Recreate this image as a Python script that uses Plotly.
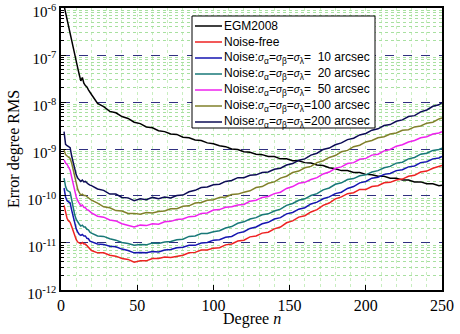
import plotly.graph_objects as go
import numpy as np

degrees = list(range(2, 20)) + list(range(20, 249, 4)) + [250]

# log10 of error degree RMS
egm2008_log = [-5.95, -6.1, -6.3, -6.42, -6.55, -6.7, -6.85, -7.0, -7.15, -7.28, -7.42, -7.55, -7.48, -7.6, -7.65, -7.68, -7.74, -7.8,
               -7.84, -8.03, -8.1, -8.2, -8.23, -8.31, -8.35, -8.43, -8.46, -8.53, -8.55, -8.61, -8.63, -8.68, -8.69, -8.75, -8.76, -8.81,
               -8.82, -8.87, -8.89, -8.93, -8.95, -9.0, -9.01, -9.06, -9.07, -9.11, -9.12, -9.16, -9.16, -9.21, -9.21, -9.25, -9.25, -9.29,
               -9.3, -9.34, -9.35, -9.4, -9.42, -9.46, -9.46, -9.5, -9.5, -9.54, -9.55, -9.58, -9.58, -9.62, -9.62, -9.66, -9.66, -9.7,
               -9.7, -9.74, -9.74, -9.78, -9.77]
noise200_log = [-8.63, -8.9, -8.93, -8.95, -8.97, -9.15, -9.3, -9.45, -9.55, -9.62, -9.66, -9.69, -9.66, -9.7, -9.69, -9.73, -9.75, -9.77,
                -9.78, -9.85, -9.88, -9.96, -9.96, -10.03, -10.04, -10.1, -10.06, -10.08, -10.03, -10.06, -10.02, -10.04, -9.99, -9.98, -9.91, -9.88,
                -9.82, -9.81, -9.76, -9.75, -9.69, -9.67, -9.61, -9.61, -9.56, -9.55, -9.5, -9.49, -9.43, -9.41, -9.34, -9.31, -9.24, -9.21,
                -9.13, -9.09, -9.01, -8.98, -8.91, -8.87, -8.8, -8.77, -8.7, -8.67, -8.6, -8.57, -8.5, -8.48, -8.41, -8.38, -8.31, -8.29,
                -8.21, -8.17, -8.09, -8.06, -8.01]
noise100_log = [-9.02, -9.12, -9.15, -9.18, -9.2, -9.3, -9.45, -9.62, -9.76, -9.86, -9.93, -9.98, -9.96, -9.99, -9.99, -10.02, -10.03, -10.06,
                -10.09, -10.15, -10.23, -10.25, -10.31, -10.32, -10.37, -10.37, -10.39, -10.35, -10.36, -10.33, -10.32, -10.27, -10.27, -10.22, -10.21, -10.15,
                -10.14, -10.09, -10.08, -10.03, -10.02, -9.97, -9.96, -9.92, -9.89, -9.82, -9.8, -9.73, -9.7, -9.62, -9.58, -9.5, -9.47, -9.4,
                -9.37, -9.29, -9.25, -9.18, -9.14, -9.06, -9.03, -8.95, -8.92, -8.85, -8.82, -8.76, -8.74, -8.68, -8.66, -8.6, -8.59, -8.53,
                -8.51, -8.45, -8.43, -8.36, -8.34]
noise50_log = [-9.23, -9.3, -9.33, -9.38, -9.45, -9.6, -9.76, -9.91, -10.02, -10.1, -10.17, -10.21, -10.19, -10.24, -10.25, -10.29, -10.3, -10.34,
               -10.36, -10.43, -10.45, -10.51, -10.53, -10.59, -10.62, -10.66, -10.62, -10.63, -10.59, -10.6, -10.55, -10.54, -10.5, -10.49, -10.44, -10.43,
               -10.37, -10.36, -10.3, -10.29, -10.24, -10.23, -10.19, -10.18, -10.11, -10.09, -10.03, -10.01, -9.95, -9.92, -9.84, -9.8, -9.73, -9.71,
               -9.65, -9.61, -9.53, -9.49, -9.41, -9.38, -9.31, -9.29, -9.22, -9.2, -9.13, -9.11, -9.04, -9.01, -8.94, -8.91, -8.85, -8.82,
               -8.76, -8.74, -8.68, -8.66, -8.63]
noise20_log = [-9.62, -9.8, -9.88, -9.9, -9.92, -10.08, -10.25, -10.4, -10.5, -10.56, -10.6, -10.64, -10.62, -10.66, -10.66, -10.71, -10.72, -10.77,
               -10.79, -10.85, -10.86, -10.91, -10.94, -10.99, -11.01, -11.05, -11.03, -11.04, -11.0, -11.01, -10.98, -10.97, -10.93, -10.92, -10.86, -10.85,
               -10.8, -10.8, -10.76, -10.74, -10.68, -10.65, -10.58, -10.55, -10.49, -10.46, -10.4, -10.38, -10.32, -10.28, -10.2, -10.16, -10.09, -10.06,
               -9.99, -9.95, -9.87, -9.83, -9.75, -9.72, -9.65, -9.63, -9.57, -9.55, -9.49, -9.46, -9.4, -9.37, -9.3, -9.28, -9.21, -9.18,
               -9.11, -9.09, -9.03, -9.01, -8.98]
noise10_log = [-9.83, -10.02, -10.1, -10.13, -10.15, -10.3, -10.45, -10.6, -10.7, -10.77, -10.82, -10.84, -10.82, -10.85, -10.85, -10.9, -10.91, -10.96,
               -10.97, -11.02, -11.03, -11.07, -11.08, -11.13, -11.16, -11.21, -11.2, -11.21, -11.18, -11.19, -11.15, -11.14, -11.1, -11.09, -11.05, -11.05,
               -11.0, -10.99, -10.94, -10.93, -10.88, -10.86, -10.79, -10.76, -10.69, -10.66, -10.59, -10.56, -10.49, -10.46, -10.38, -10.35, -10.28, -10.25,
               -10.17, -10.13, -10.06, -10.02, -9.95, -9.92, -9.84, -9.8, -9.72, -9.69, -9.62, -9.6, -9.54, -9.52, -9.46, -9.44, -9.38, -9.36,
               -9.29, -9.27, -9.21, -9.19, -9.16]
noisefree_log = [-10.2, -10.35, -10.48, -10.53, -10.56, -10.65, -10.75, -10.85, -10.93, -10.98, -11.0, -11.02, -10.99, -11.02, -11.02, -11.06, -11.08, -11.13,
                 -11.16, -11.21, -11.21, -11.26, -11.28, -11.33, -11.35, -11.41, -11.38, -11.38, -11.33, -11.33, -11.3, -11.31, -11.28, -11.26, -11.21, -11.2,
                 -11.15, -11.15, -11.11, -11.1, -11.04, -11.02, -10.96, -10.94, -10.87, -10.85, -10.79, -10.77, -10.7, -10.66, -10.57, -10.53, -10.45, -10.42,
                 -10.34, -10.29, -10.2, -10.15, -10.06, -10.02, -9.95, -9.93, -9.86, -9.86, -9.8, -9.78, -9.72, -9.71, -9.66, -9.64, -9.58, -9.56,
                 -9.49, -9.47, -9.41, -9.38, -9.35]

sig = '<span style="font-size:10px"><i>σ</i></span>'
def noise_name(v):
    pad = '\u00a0\u00a0' if v < 100 else ''
    return ('Noise:' + sig + '<sub>α</sub>=' + sig + '<sub>β</sub>=' + sig +
            '<sub>λ</sub>=' + pad + str(v) + ' arcsec')

series = [
    ('EGM2008', egm2008_log, '#000000'),
    ('Noise-free', noisefree_log, '#ee2222'),
    (noise_name(10), noise10_log, '#1515b0'),
    (noise_name(20), noise20_log, '#187878'),
    (noise_name(50), noise50_log, '#ee22ee'),
    (noise_name(100), noise100_log, '#80802a'),
    (noise_name(200), noise200_log, '#0c0c55'),
]

fig = go.Figure()
for name, vals, col in series:
    fig.add_trace(go.Scatter(x=degrees, y=10 ** np.array(vals), mode='lines', name=name,
                             line=dict(color=col, width=1.5), showlegend=False))

# hand-built legend (pixel geometry of the plot area: x 61..442, y 8..290)
L, R, T, B = 61, 442, 8, 290
def px(xp):
    return (xp - L) / (R - L)
def py(yp):
    return (B - yp) / (B - T)

fig.add_shape(type='rect', xref='paper', yref='paper', x0=px(192), x1=px(375), y0=py(128), y1=py(16),
              line=dict(color='black', width=1), fillcolor='white', layer='above')
for i, (name, vals, col) in enumerate(series):
    yc = 26 + 16 * i
    fig.add_shape(type='line', xref='paper', yref='paper', x0=px(195), x1=px(222), y0=py(yc), y1=py(yc),
                  line=dict(color=col, width=1.5), layer='above')
    fig.add_annotation(xref='paper', yref='paper', x=px(223), y=py(yc), xanchor='left', yanchor='middle',
                       text=name, showarrow=False, borderpad=0,
                       font=dict(family='Liberation Sans', size=12, color='black'))

serif = 'Liberation Serif'
major = [10.0 ** k for k in range(-12, -5)]
minor_vals = [m * 10.0 ** k for k in range(-12, -6) for m in range(2, 10)]

# x-axis title placed as text just under the tick labels
fig.add_annotation(xref='paper', yref='paper', x=0.5, y=py(319), xanchor='center', yanchor='middle',
                   text='Degree <i>n</i>', showarrow=False, borderpad=0,
                   font=dict(family=serif, size=16, color='black'))

fig.update_layout(
    width=460, height=334,
    margin=dict(l=L, r=460 - R, t=T, b=334 - B),
    paper_bgcolor='white', plot_bgcolor='white',
    showlegend=False,
    xaxis=dict(range=[0, 250], tickvals=[0, 50, 100, 150, 200, 250], automargin=False,
               ticks='inside', ticklen=5, tickcolor='black',
               showline=True, linecolor='black', linewidth=1.5, mirror=True,
               showgrid=False, zeroline=False,
               minor=dict(dtick=10, showgrid=True, gridcolor='#c8eec0', griddash='dot', gridwidth=1),
               tickfont=dict(family=serif, size=16, color='black')),
    yaxis=dict(type='log', range=[-12.0005, -5.9995], tickvals=major, automargin=False,
               ticktext=['10<sup>%d</sup>' % k for k in range(-12, -5)],
               ticks='inside', ticklen=5, tickcolor='black', ticklabeloverflow='allow',
               ticklabelshift=4,
               showline=True, linecolor='black', linewidth=1.5, mirror=True,
               showgrid=True, gridcolor='#303080', griddash='dash', gridwidth=0.8,
               zeroline=False,
               minor=dict(tickvals=minor_vals, ticks='inside', ticklen=3, tickcolor='black',
                          showgrid=True, gridcolor='#a8e0a0', griddash='dot', gridwidth=1),
               tickfont=dict(family=serif, size=15, color='black'),
               title=dict(text='Error degree RMS', font=dict(family=serif, size=16, color='black'), standoff=4)),
)

fig.write_html('out.html')
